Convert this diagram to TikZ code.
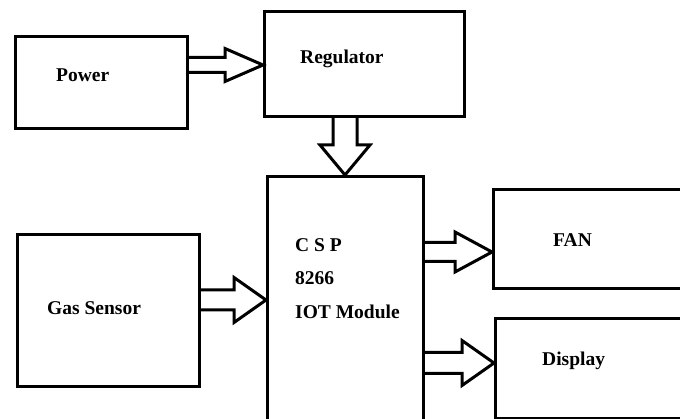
\documentclass[tikz,border=0pt]{standalone}
\usepackage{fontspec}
\setmainfont{Liberation Serif}
\usetikzlibrary{calc}
\tikzset{
  box/.style={draw=black, line width=3.2pt, rectangle, inner sep=0pt, anchor=north west},
  lbl/.style={inner sep=0pt, anchor=base west, font=\fontsize{19.5}{23}\selectfont\bfseries, text=black},
  fatline/.style={draw=black, line width=3pt, line join=miter},
}
% horizontal fat arrow: start, tip, shaft half, head half, head length
\newcommand\hfat[5]{%
  \draw[fatline] ($(#1)+(0,#3)$) -- ($(#2)+(-#5,#3)$) -- ($(#2)+(-#5,#4)$) -- (#2)
    -- ($(#2)+(-#5,-#4)$) -- ($(#2)+(-#5,-#3)$) -- ($(#1)+(0,-#3)$);}
% vertical (downward) fat arrow
\newcommand\vfat[5]{%
  \draw[fatline] ($(#1)+(#3,0)$) -- ($(#2)+(#3,-#5)$) -- ($(#2)+(#4,-#5)$) -- (#2)
    -- ($(#2)+(-#4,-#5)$) -- ($(#2)+(-#3,-#5)$) -- ($(#1)+(-#3,0)$);}
\begin{document}
\begin{tikzpicture}[x=1pt,y=-1pt]
  \useasboundingbox (0,0) rectangle (680,419);
  \clip (0,0) rectangle (680,419);
  \fill[white] (0,0) rectangle (680,419);
  % boxes
  \node[box, minimum width=172pt, minimum height=92pt] (power) at (14,35) {};
  \node[box, minimum width=200pt, minimum height=105pt] (reg) at (263,10) {};
  \node[box, minimum width=156pt, minimum height=270pt] (csp) at (266,175) {};
  \node[box, minimum width=182pt, minimum height=152pt] (gas) at (16,233) {};
  \node[box, minimum width=210pt, minimum height=99pt] (fan) at (492,188) {};
  \node[box, minimum width=210pt, minimum height=100pt] (disp) at (494,317) {};
  % labels
  \node[lbl] (tpower) at (56,82) {Power};
  \node[lbl] (treg) at (300,64) {Regulator};
  \node[lbl] (tgas) at (47,315) {Gas Sensor};
  \node[lbl] (tcsp1) at (295,252) {C S P};
  \node[lbl] (tcsp2) at (295,285) {8266};
  \node[lbl] (tcsp3) at (295,319) {IOT Module};
  \node[lbl] (tfan) at (553,247) {FAN};
  \node[lbl] (tdisp) at (542,366) {Display};
  % arrow end points
  \coordinate (a1s) at (power.east |- 0,65);
  \coordinate (a1t) at (reg.west |- 0,65);
  \coordinate (a2s) at (345,0 |- reg.south);
  \coordinate (a2t) at (345,0 |- csp.north);
  \coordinate (a3s) at (gas.east |- 0,300);
  \coordinate (a3t) at (csp.west |- 0,300);
  \coordinate (a4s) at (csp.east |- 0,252);
  \coordinate (a4t) at (fan.west |- 0,252);
  \coordinate (a5s) at (csp.east |- 0,363);
  \coordinate (a5t) at (disp.west |- 0,363);
  % arrows
  \hfat{a1s}{a1t}{7.5}{16.5}{38}
  \vfat{a2s}{a2t}{12}{25}{30}
  \hfat{a3s}{a3t}{10}{22.5}{32}
  \hfat{a4s}{a4t}{9.5}{20}{37}
  \hfat{a5s}{a5t}{10.5}{22.5}{32}
\end{tikzpicture}
\end{document}
